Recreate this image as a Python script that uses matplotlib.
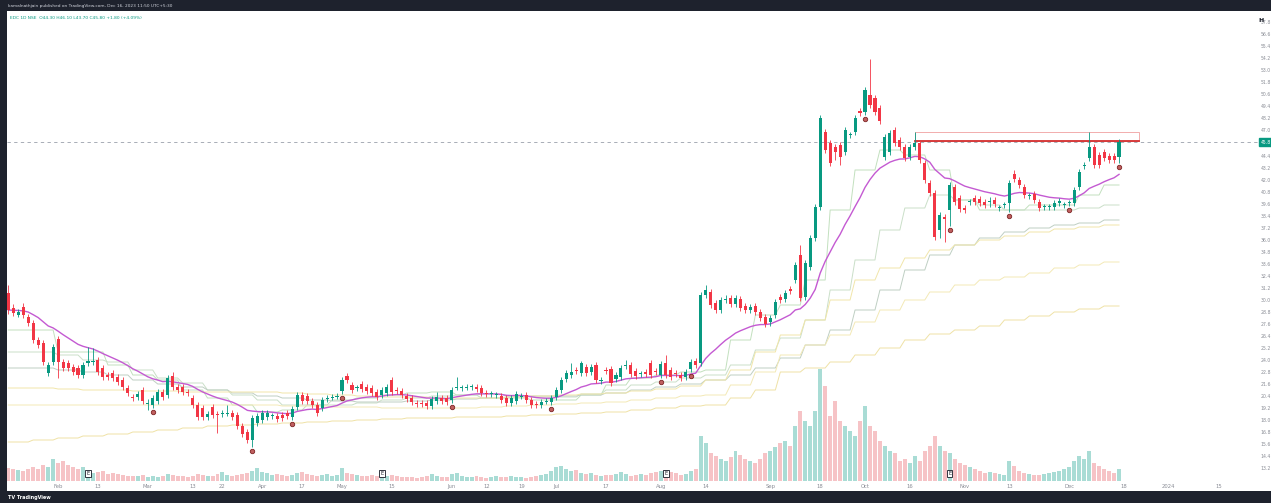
import numpy as np
import pandas as pd
import matplotlib
matplotlib.use("Agg")
import matplotlib.pyplot as plt
from matplotlib.patches import Rectangle
import matplotlib.transforms as mtransforms

# ---- daily bars (price) ----
opens = [30.7,29.2,28.5,29.3,28.3,27.7,26.0,25.7,22.7,23.8,26.1,23.8,23.7,23.3,23.2,22.5,23.7,23.8,24.0,23.2,
         22.5,22.7,22.3,22.0,21.2,20.3,20.3,21.0,19.6,19.5,19.9,20.8,20.5,22.4,21.3,21.3,20.8,20.2,19.5,19.2,
         18.3,19.3,18.6,18.6,18.6,18.7,18.5,17.4,16.8,16.0,17.7,18.0,18.3,18.4,18.4,18.5,18.7,18.3,19.3,20.5,
         20.4,19.9,19.5,19.2,20.1,20.2,20.3,20.9,22.4,21.5,21.2,21.6,21.3,21.2,20.8,20.5,20.7,22.0,21.0,20.9,
         20.4,20.2,19.7,19.7,19.7,19.4,19.9,20.2,20.2,20.0,21.2,21.2,21.2,21.3,21.3,21.2,20.7,20.6,20.5,20.4,
         20.2,19.7,19.9,20.3,20.5,20.0,19.6,19.5,19.8,19.8,20.3,21.0,22.1,22.5,23.0,22.7,23.3,22.8,23.5,21.9,
         23.0,23.1,22.1,22.3,23.4,23.5,22.9,22.6,22.8,23.7,22.9,22.5,23.7,23.0,22.7,22.5,22.3,23.1,23.9,23.7,
         30.5,30.8,29.7,29.0,30.0,30.2,29.6,30.1,29.4,29.0,29.4,28.8,28.3,27.8,28.5,30.3,30.1,31.1,32.0,34.5,
         30.3,33.3,36.2,39.3,46.8,45.7,45.3,45.5,44.8,46.5,46.8,48.9,48.8,50.5,50.2,49.2,44.3,44.8,47.0,46.0,
         45.3,44.3,45.3,45.7,43.7,41.7,40.7,37.0,38.3,39.0,41.3,40.2,39.2,39.8,40.2,40.1,39.8,39.8,40.0,39.2,
         39.5,39.7,42.6,42.0,41.3,40.4,40.6,39.8,39.3,39.3,39.3,39.7,39.5,39.7,39.7,41.3,43.4,44.2,45.3,44.5,
         44.8,44.4,44.4,44.3]
highs = [31.5,29.6,29.1,29.7,28.6,28.0,26.3,26.0,23.8,25.6,26.4,24.1,24.0,23.6,23.5,23.8,25.3,25.2,24.3,23.5,
         22.8,23.0,22.6,22.3,21.5,20.6,20.9,21.3,20.1,20.5,21.1,21.1,22.5,22.8,21.6,21.6,21.1,20.5,19.8,19.5,
         18.9,19.6,18.9,19.0,19.5,19.0,18.8,17.7,17.1,18.5,18.7,19.0,19.0,18.7,18.7,18.8,19.0,19.4,20.8,20.8,
         20.7,20.2,19.8,20.3,20.5,20.6,20.7,22.3,22.7,21.8,21.5,21.9,21.6,21.5,21.1,21.3,21.6,22.3,21.3,21.2,
         20.7,20.5,20.0,20.0,20.0,20.4,20.8,20.5,20.5,21.3,22.3,21.5,21.6,21.6,21.6,21.5,21.0,20.9,20.8,20.7,
         20.5,20.5,20.9,20.7,20.8,20.3,19.9,20.1,20.2,20.5,21.3,22.3,23.0,23.7,23.3,23.9,23.6,23.6,23.8,22.3,
         23.3,23.4,22.8,23.5,24.0,23.8,23.2,22.9,23.1,24.0,23.2,23.9,24.5,23.3,23.0,22.8,23.1,24.1,24.2,30.8,
         31.5,31.1,30.0,30.3,30.5,30.5,30.5,30.4,29.7,29.6,29.7,29.1,28.6,28.5,30.1,30.6,31.0,31.4,33.8,35.5,
         34.0,36.5,39.6,48.5,47.1,46.0,45.6,45.8,47.3,46.8,48.5,49.2,51.3,54.1,50.5,49.5,46.6,47.0,47.3,46.3,
         45.6,45.6,46.8,46.0,44.0,42.0,41.0,38.8,38.6,41.8,41.6,40.5,39.5,40.1,40.5,40.4,40.1,40.3,40.3,39.5,
         39.8,42.0,43.0,42.3,41.6,40.7,40.9,40.1,39.6,39.6,40.0,40.2,39.8,40.0,41.3,43.1,43.8,46.8,45.6,44.8,
         45.1,44.7,44.7,46.1]
lows = [28.6,28.4,28.3,28.2,27.4,25.7,25.2,23.5,22.4,23.5,22.2,22.9,22.9,22.5,22.2,22.2,23.4,23.5,22.5,22.0,
        22.0,21.9,21.5,21.0,20.4,19.9,20.0,19.6,19.0,19.2,19.6,20.0,20.2,21.0,20.7,20.5,20.4,19.2,18.0,18.0,
        18.0,18.2,16.7,18.3,18.4,18.0,17.1,16.3,15.7,15.3,17.4,17.7,18.0,18.1,17.8,17.9,18.1,18.0,19.0,19.6,
        19.6,19.2,18.4,18.9,19.8,20.0,20.1,20.6,21.7,20.7,20.9,20.8,20.6,20.4,20.0,20.2,20.4,20.5,20.6,20.2,
        19.8,19.5,19.3,19.3,19.1,19.1,19.6,19.6,19.5,19.7,21.0,20.9,21.0,21.0,20.8,20.4,20.3,20.3,20.2,19.7,
        19.4,19.4,19.6,20.1,19.7,19.2,19.2,19.2,19.6,19.5,20.0,20.7,21.8,22.2,22.6,22.4,22.4,22.5,21.7,21.6,
        22.6,21.4,21.8,22.0,23.1,22.3,22.1,22.3,22.3,22.2,22.5,22.2,22.2,22.0,22.3,21.9,22.0,22.8,23.2,23.4,
        30.2,29.2,28.7,28.7,29.7,29.3,29.3,28.9,28.7,28.7,28.5,27.9,27.3,27.4,28.2,29.7,29.8,30.6,31.7,29.9,
        30.0,33.0,35.9,39.0,44.7,43.4,44.0,43.5,44.5,46.2,46.5,48.4,48.5,49.2,48.5,47.6,44.0,44.5,45.4,45.0,
        43.9,44.0,45.0,43.7,41.7,40.4,36.0,36.2,35.8,37.4,39.5,38.8,38.7,39.5,39.5,39.4,39.2,39.3,39.3,38.9,
        39.2,38.8,41.8,41.2,40.2,40.1,39.7,38.9,39.0,39.0,39.0,39.4,39.2,39.4,39.4,41.0,43.1,43.9,43.2,43.2,
        43.9,43.7,43.7,43.7]
closes = [29.0,28.7,28.8,28.5,27.7,26.0,25.5,23.8,23.5,25.3,23.8,23.2,23.2,22.8,22.5,23.5,23.9,23.9,22.8,22.3,
          22.3,22.2,21.8,21.3,20.7,20.2,20.6,19.9,19.7,20.2,20.8,20.3,22.2,21.3,21.0,20.8,20.7,19.5,18.3,18.3,
          18.6,18.5,18.5,18.7,18.7,18.3,17.4,16.6,16.0,18.2,18.4,18.7,18.7,18.4,18.1,18.2,18.4,19.1,20.5,19.9,
          19.9,19.5,18.7,20.0,20.2,20.3,20.4,22.0,22.0,21.0,21.2,21.1,20.9,20.7,20.3,21.0,21.3,20.8,20.9,20.5,
          20.1,19.8,19.6,19.6,19.4,20.1,20.3,19.9,19.8,21.0,21.3,21.2,21.3,21.3,21.1,20.7,20.6,20.6,20.5,20.0,
          19.7,20.2,20.6,20.4,20.0,19.5,19.5,19.8,19.9,20.2,21.0,22.0,22.7,22.8,22.9,23.7,22.7,23.3,22.0,22.0,
          22.9,21.7,22.5,23.2,23.4,22.6,22.4,22.6,22.6,22.5,22.8,23.6,22.5,22.3,22.6,22.2,22.8,23.8,23.5,30.5,
          31.0,29.5,29.0,30.0,30.1,29.6,30.2,29.2,29.0,29.3,28.8,28.2,27.6,28.2,29.8,30.0,30.7,30.9,33.5,30.2,
          33.7,36.2,39.3,48.2,45.0,43.7,44.8,44.3,47.0,46.5,48.2,48.7,51.0,49.5,48.8,47.9,46.3,46.7,45.7,45.3,
          44.2,45.3,45.7,44.0,42.0,40.7,36.3,38.5,38.1,41.5,39.8,39.1,39.0,39.8,39.8,39.7,39.5,39.8,39.6,39.2,
          39.5,41.7,42.1,41.5,40.5,40.4,40.0,39.2,39.3,39.3,39.7,39.9,39.5,39.7,41.0,42.8,43.5,45.3,43.5,43.5,
          44.2,44.0,44.0,45.8]
volumes = [13,12,11,10,12,14,12,16,14,22,18,
           20,16,14,12,14,10,8,9,10,7,
           8,7,6,5,5,5,6,4,5,4,5,7,6,5,5,4,5,7,6,5,
           5,7,9,6,5,6,7,8,10,13,9,8,6,7,6,5,6,8,9,7,
           6,5,6,7,5,6,13,8,7,6,5,5,6,5,4,5,6,5,4,4,
           4,3,4,5,7,5,4,4,7,8,5,4,4,5,4,3,4,5,4,4,
           5,4,4,3,4,5,6,7,10,14,15,12,10,11,8,7,8,6,5,6,
           6,7,9,7,5,6,7,6,8,9,10,8,9,8,6,7,10,12,45,38,
           28,25,22,20,24,30,26,22,20,18,22,28,30,34,38,40,35,55,70,60,
           55,70,112,95,65,80,60,55,50,45,60,75,55,50,40,35,30,28,20,22,
           18,25,20,30,35,45,35,30,28,22,18,16,14,12,10,8,9,8,7,6,
           20,15,10,8,7,6,6,7,8,9,10,12,14,20,25,22,30,18,15,12,10,8,12]

# ---- weekly step lines (price, one value per week) ----
wk_green1 = [27.0,27.0,24.8,24.8,23.5,22.5,22.0,21.0,20.2,19.5,18.8,19.0,19.5,20.0,20.2,20.5,20.7,20.8,20.5,20.2,
             20.2,20.0,20.0,20.5,21.5,22.2,22.5,22.8,23.0,26.0,28.5,29.5,32.0,39.0,43.0,45.0,44.5,43.0,40.0,39.0,
             39.0,39.5,39.5,40.5,41.5]
wk_green2 = [24.8,24.8,24.5,24.0,23.8,23.0,22.2,21.7,21.0,20.5,20.0,19.5,19.5,19.5,19.7,20.0,20.2,20.4,20.5,20.6,
             20.4,20.3,20.3,20.6,21.0,21.5,21.8,22.2,22.5,23.5,25.0,26.2,28.0,31.0,34.0,37.0,39.2,40.5,40.0,39.5,
             39.0,39.0,39.0,39.2,39.5]
wk_green3 = [23.2,23.2,23.0,22.8,22.5,22.0,21.6,21.3,21.0,20.7,20.4,20.2,20.0,19.9,19.8,19.8,19.9,20.0,20.1,20.2,
             20.3,20.4,20.4,20.5,20.7,21.0,21.3,21.6,22.0,22.5,23.2,24.2,25.5,27.0,29.0,31.0,33.0,34.5,35.5,36.2,
             36.8,37.2,37.5,37.7,38.0]
wk_yellow1 = [21.2,21.2,21.1,21.0,21.0,20.9,20.9,20.8,20.8,20.8,20.8,20.7,20.6,20.5,20.4,20.3,20.3,20.2,20.2,20.2,
              20.3,20.4,20.5,20.6,20.7,20.9,21.1,21.4,22.0,23.0,24.8,26.5,28.0,30.0,32.0,33.2,34.2,35.0,35.5,36.0,
              36.4,36.8,37.1,37.3,37.5]
wk_yellow2 = [19.5,19.5,19.5,19.5,19.5,19.5,19.5,19.5,19.5,19.5,19.5,19.4,19.4,19.3,19.3,19.2,19.2,19.2,19.2,19.3,
              19.4,19.5,19.6,19.7,19.8,20.0,20.2,20.4,20.5,21.5,22.8,24.5,25.5,26.5,27.8,29.0,30.0,30.8,31.5,32.0,
              32.3,32.7,33.2,33.5,33.8]
wk_yellow3 = [15.8,16.0,16.2,16.4,16.6,16.8,17.0,17.2,17.4,17.5,17.6,17.7,17.8,17.9,18.0,18.1,18.2,18.2,18.3,18.3,
              18.4,18.5,18.6,18.7,18.8,19.0,19.2,19.4,19.5,20.2,21.0,22.8,23.2,23.8,24.5,25.2,26.0,26.6,27.0,27.4,
              28.0,28.4,28.8,29.1,29.4]

# ---- markers / labels ----
pivot_bars = [29, 49, 57, 67, 89, 109, 131, 137, 172, 189, 201, 213, 223]
earnings_bars = [16, 75, 132, 189]
resist_start, resist_end = 182, 227
resist_level, resist_top = 45.9, 46.8
tick_pos = [10, 18, 28, 37, 43, 51, 59, 67, 77, 89, 96, 103, 110, 120, 131, 140, 153, 163, 172, 181,
            192, 201, 213, 224, 233, 243]
tick_lab = ['Feb', '13', 'Mar', '13', '22', 'Apr', '17', 'May', '15', 'Jun', '12', '19', 'Jul', '17',
            'Aug', '14', 'Sep', '18', 'Oct', '16', 'Nov', '13', 'Dec', '18', '2024', '15']
price_ticks = [13.2, 14.4, 15.6, 16.8, 18.0, 19.2, 20.4, 21.6, 22.8, 24.0, 25.2, 26.4, 27.6, 28.8, 30.0,
               31.2, 32.4, 33.6, 34.8, 36.0, 37.2, 38.4, 39.6, 40.8, 42.0, 43.2, 44.4, 47.0, 48.2, 49.4,
               50.6, 51.8, 53.0, 54.2, 55.4, 56.6, 57.8]

UP, DOWN = '#089981', '#f23645'
W, H = 1271, 503

o = np.array(opens); h = np.array(highs); l = np.array(lows); c = np.array(closes)
v = np.array(volumes)
n = len(c)
idx = np.arange(n)
up = c >= o
ema = pd.Series(c).ewm(span=20, adjust=False).mean()

fig = plt.figure(figsize=(W / 100, H / 100), dpi=100)
fig.patch.set_facecolor('#1e222d')
fig.add_artist(Rectangle((7 / W, 1 - 491 / H), (W - 7) / W, 480 / H, transform=fig.transFigure,
                         facecolor='white', edgecolor='none', zorder=0))

rect = [7 / W, 1 - 481 / H, (1259 - 7) / W, 470 / H]
xlim = (-0.26, 251.1)

# volume pane behind
axv = fig.add_axes(rect)
axv.bar(idx, v, width=0.8, color=np.where(up, '#a9dcd5', '#f6c3c6'), linewidth=0)
axv.set_xlim(*xlim)
axv.set_ylim(0, 470)
axv.axis('off')

ax = fig.add_axes(rect)
ax.patch.set_alpha(0)
ax.set_xlim(*xlim)
ax.set_ylim(11.9, 58.9)
for s in ax.spines.values():
    s.set_visible(False)

# weekly step lines
step_cols = [('#c2e0be', wk_green1), ('#cadfc8', wk_green2), ('#bfcfc3', wk_green3),
             ('#f1e6aa', wk_yellow1), ('#f3e9b6', wk_yellow2), ('#efe2a6', wk_yellow3)]
for col, wk in step_cols:
    ax.plot(idx, np.repeat(wk, 5)[:n], color=col, lw=0.7, zorder=1)

ax.plot(idx, ema, color='#c45ad2', lw=1.0, zorder=2)

# candles
colors = np.where(up, UP, DOWN)
ax.vlines(idx, l, h, colors=colors, lw=0.6, zorder=3)
body = np.maximum(np.abs(c - o), 0.1)
ax.bar(idx, body, bottom=np.minimum(o, c), width=0.62, color=colors, linewidth=0, zorder=4)

# pivot markers
pb = np.array(pivot_bars)
ax.plot(pb, l[pb] - 0.35, 'o', ms=3.2, mfc='#c06060', mec='#7d2424', mew=0.6, zorder=5)

# resistance box
ax.add_patch(Rectangle((resist_start, resist_level), resist_end - resist_start, resist_top - resist_level,
                       fill=False, edgecolor='#f0a0a0', lw=0.6, zorder=2))
ax.plot([resist_start, resist_end], [resist_level, resist_level], color='#d32f2f', lw=1.3, zorder=2)

# last price line
ax.axhline(c[-1], color='#9aa0ab', lw=0.6, ls=(0, (4, 4)), zorder=1)

# earnings markers
trans = mtransforms.blended_transform_factory(ax.transData, ax.transAxes)
for b in earnings_bars:
    ax.text(b, 0.016, 'E', transform=trans, fontsize=3.6, ha='center', va='center', color='#131722',
            bbox=dict(boxstyle='square,pad=0.25', fc='white', ec='#131722', lw=0.6), zorder=6)

# axes ticks
ax.set_xticks(tick_pos)
ax.set_xticklabels(tick_lab)
ax.set_yticks(price_ticks)
ax.set_yticklabels(['%.1f' % t for t in price_ticks])
ax.yaxis.tick_right()
ax.tick_params(axis='x', length=0, pad=2.0, labelsize=3.8, labelcolor='#8a8d96')
ax.tick_params(axis='y', length=0, pad=1.2, labelsize=3.3, labelcolor='#8a8d96')
for t in ax.get_yticklabels():
    t.set_horizontalalignment('left')

ax.annotate('%.1f' % c[-1], xy=(1.0, c[-1]), xycoords=('axes fraction', 'data'),
            xytext=(1.0, 0), textcoords='offset points', fontsize=3.3, color='white', va='center', ha='left',
            bbox=dict(boxstyle='square,pad=0.25', fc=UP, ec=UP))

fig.text(8 / W, 1 - 5.5 / H, 'kamalnathjain published on TradingView.com, Dec 16, 2023 11:50 UTC+5:30',
         color='#d1d4dc', fontsize=3.1, va='center')
fig.text(10 / W, 1 - 18 / H, 'EDC 1D NSE  O44.30 H46.10 L43.70 C45.80 +1.80 (+4.09%)',
         color=UP, fontsize=3.2, va='center')
fig.text(1258 / W, 1 - 20 / H, 'H', color='#131722', fontsize=4.5, va='center', weight='bold')
fig.text(8 / W, 1 - 497 / H, 'TV TradingView', color='white', fontsize=3.5, va='center', weight='bold')

fig.savefig('out.png', dpi=100, facecolor=fig.get_facecolor())
